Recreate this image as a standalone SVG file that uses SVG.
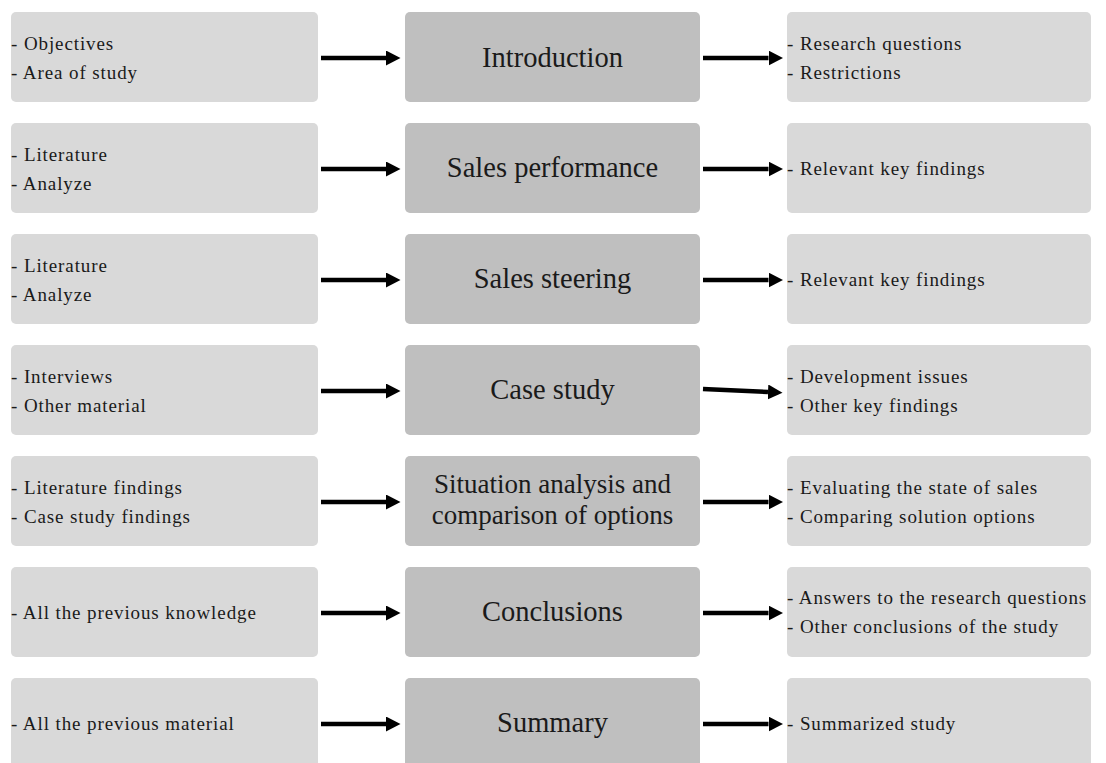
<svg xmlns="http://www.w3.org/2000/svg" width="1106" height="763" viewBox="0 0 1106 763">
  <defs>
    <marker id="head" markerUnits="userSpaceOnUse" markerWidth="15" markerHeight="16" refX="0" refY="7.5" orient="auto">
      <path d="M0,0 L14.5,7.5 L0,15 z" fill="#000"/>
    </marker>
  </defs>
  <style>
    .side { fill: #d9d9d9; }
    .mid { fill: #bfbfbf; }
    .t { font-family: "Liberation Serif", "DejaVu Serif", serif; font-size: 19px; letter-spacing: 0.9px; fill: #1a1a1a; }
    .m { font-family: "Liberation Serif", "DejaVu Serif", serif; font-size: 28.5px; fill: #1a1a1a; text-anchor: middle; }
    .m2 { font-size: 27px; }
    .arrow { stroke: #000; stroke-width: 4.5; fill: none; marker-end: url(#head); }
  </style>
  <rect width="1106" height="763" fill="#fff"/>

  <!-- Row 1 -->
  <g id="in-intro"><rect class="side" x="11" y="12" width="307" height="90" rx="5"/>
    <text class="t" x="11" y="49.5">- Objectives</text><text class="t" x="11" y="79">- Area of study</text></g>
  <g id="introduction"><rect class="mid" x="405" y="12" width="295" height="90" rx="5"/>
    <text class="m" x="552.5" y="67">Introduction</text></g>
  <g id="out-intro"><rect class="side" x="787" y="12" width="304" height="90" rx="5"/>
    <text class="t" x="787" y="49.5">- Research questions</text><text class="t" x="787" y="79">- Restrictions</text></g>

  <!-- Row 2 -->
  <g id="in-performance"><rect class="side" x="11" y="123" width="307" height="90" rx="5"/>
    <text class="t" x="11" y="160.5">- Literature</text><text class="t" x="11" y="190">- Analyze</text></g>
  <g id="sales-performance"><rect class="mid" x="405" y="123" width="295" height="90" rx="5"/>
    <text class="m" x="552.5" y="177">Sales performance</text></g>
  <g id="out-performance"><rect class="side" x="787" y="123" width="304" height="90" rx="5"/>
    <text class="t" x="787" y="174.5">- Relevant key findings</text></g>

  <!-- Row 3 -->
  <g id="in-steering"><rect class="side" x="11" y="234" width="307" height="90" rx="5"/>
    <text class="t" x="11" y="271.5">- Literature</text><text class="t" x="11" y="301">- Analyze</text></g>
  <g id="sales-steering"><rect class="mid" x="405" y="234" width="295" height="90" rx="5"/>
    <text class="m" x="552.5" y="288">Sales steering</text></g>
  <g id="out-steering"><rect class="side" x="787" y="234" width="304" height="90" rx="5"/>
    <text class="t" x="787" y="285.5">- Relevant key findings</text></g>

  <!-- Row 4 -->
  <g id="in-case"><rect class="side" x="11" y="345" width="307" height="90" rx="5"/>
    <text class="t" x="11" y="382.5">- Interviews</text><text class="t" x="11" y="412">- Other material</text></g>
  <g id="case-study"><rect class="mid" x="405" y="345" width="295" height="90" rx="5"/>
    <text class="m" x="552.5" y="399">Case study</text></g>
  <g id="out-case"><rect class="side" x="787" y="345" width="304" height="90" rx="5"/>
    <text class="t" x="787" y="382.5">- Development issues</text><text class="t" x="787" y="412">- Other key findings</text></g>

  <!-- Row 5 -->
  <g id="in-situation"><rect class="side" x="11" y="456" width="307" height="90" rx="5"/>
    <text class="t" x="11" y="493.5">- Literature findings</text><text class="t" x="11" y="523">- Case study findings</text></g>
  <g id="situation-analysis"><rect class="mid" x="405" y="456" width="295" height="90" rx="5"/>
    <text class="m m2" x="552.5" y="493">Situation analysis and</text><text class="m m2" x="552.5" y="524">comparison of options</text></g>
  <g id="out-situation"><rect class="side" x="787" y="456" width="304" height="90" rx="5"/>
    <text class="t" x="787" y="493.5">- Evaluating the state of sales</text><text class="t" x="787" y="523">- Comparing solution options</text></g>

  <!-- Row 6 -->
  <g id="in-conclusions"><rect class="side" x="11" y="567" width="307" height="90" rx="5"/>
    <text class="t" x="11" y="618.5">- All the previous knowledge</text></g>
  <g id="conclusions"><rect class="mid" x="405" y="567" width="295" height="90" rx="5"/>
    <text class="m" x="552.5" y="621">Conclusions</text></g>
  <g id="out-conclusions"><rect class="side" x="787" y="567" width="304" height="90" rx="5"/>
    <text class="t" x="787" y="603.5">- Answers to the research questions</text><text class="t" x="787" y="633">- Other conclusions of the study</text></g>

  <!-- Row 7 -->
  <g id="in-summary"><rect class="side" x="11" y="678" width="307" height="90" rx="5"/>
    <text class="t" x="11" y="729.5">- All the previous material</text></g>
  <g id="summary"><rect class="mid" x="405" y="678" width="295" height="90" rx="5"/>
    <text class="m" x="552.5" y="732">Summary</text></g>
  <g id="out-summary"><rect class="side" x="787" y="678" width="304" height="90" rx="5"/>
    <text class="t" x="787" y="729.5">- Summarized study</text></g>

  <!-- Connectors -->
  <g id="connectors">
    <path class="arrow" d="M321,58 H386"/>
    <path class="arrow" d="M703,58 H768.5"/>
    <path class="arrow" d="M321,169 H386"/>
    <path class="arrow" d="M703,169 H768.5"/>
    <path class="arrow" d="M321,280 H386"/>
    <path class="arrow" d="M703,280 H768.5"/>
    <path class="arrow" d="M321,391 H386"/>
    <path class="arrow" d="M703,389 L768,392"/>
    <path class="arrow" d="M321,502 H386"/>
    <path class="arrow" d="M703,502 H768.5"/>
    <path class="arrow" d="M321,613 H386"/>
    <path class="arrow" d="M703,613 H768.5"/>
    <path class="arrow" d="M321,724 H386"/>
    <path class="arrow" d="M703,724 H768.5"/>
  </g>
</svg>
